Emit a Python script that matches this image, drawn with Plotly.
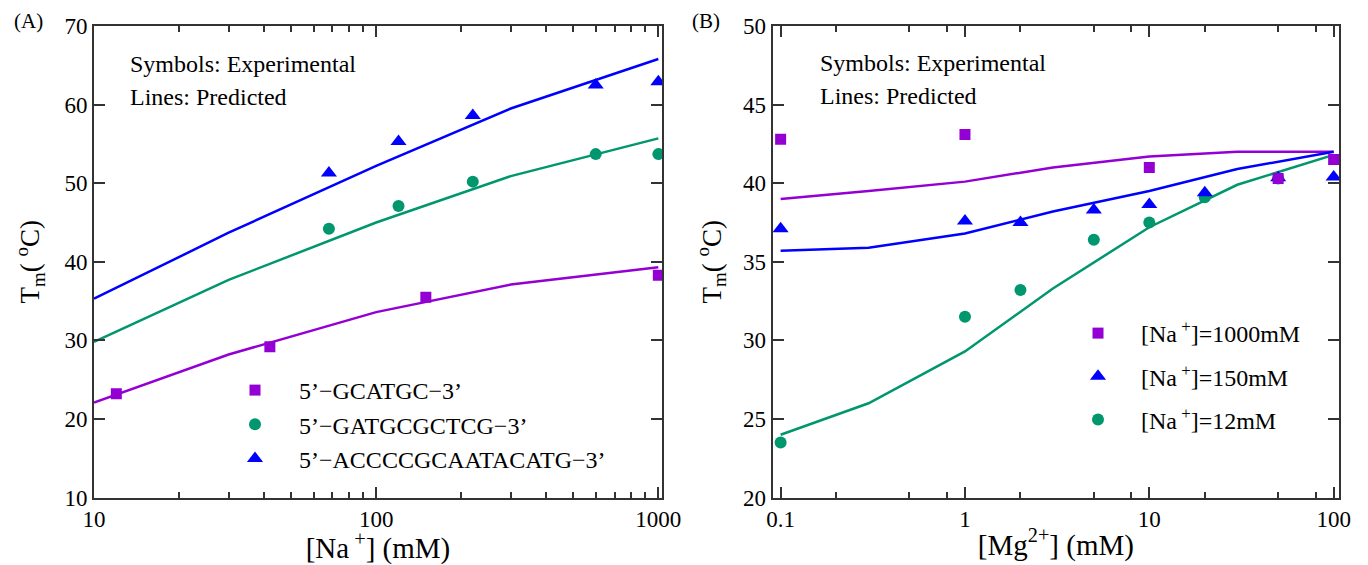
import plotly.graph_objects as go

# ---------------- Panel A data ----------------
na_line_x = [10, 30, 100, 300, 1000]
na_line_gcatgc = [22.1, 28.2, 33.6, 37.1, 39.3]
na_line_gatgc = [29.8, 37.7, 45.0, 50.9, 55.7]
na_line_acccc = [35.3, 43.7, 52.2, 59.5, 65.8]

na_sq_x = [12, 42, 150, 1000]
na_sq_y = [23.2, 29.2, 35.5, 38.3]
na_ci_x = [68, 120, 220, 600, 1000]
na_ci_y = [44.2, 47.1, 50.2, 53.7, 53.7]
na_tr_x = [68, 120, 220, 600, 1000]
na_tr_y = [51.3, 55.3, 58.6, 62.5, 62.9]

na_names = ["5’−GCATGC−3’", "5’−GATGCGCTCG−3’", "5’−ACCCCGCAATACATG−3’"]

# ---------------- Panel B data ----------------
mg_line_x = [0.1, 0.3, 1, 3, 10, 30, 100]
mg_line_1000 = [39.0, 39.5, 40.1, 41.0, 41.7, 42.0, 42.0]
mg_line_150 = [35.7, 35.9, 36.8, 38.2, 39.5, 40.9, 42.0]
mg_line_12 = [24.0, 26.0, 29.3, 33.3, 37.2, 39.9, 41.8]

mg_sq_x = [0.1, 1, 10, 50, 100]
mg_sq_y = [42.8, 43.1, 41.0, 40.3, 41.5]
mg_tr_x = [0.1, 1, 2, 5, 10, 20, 50, 100]
mg_tr_y = [37.1, 37.6, 37.5, 38.3, 38.65, 39.4, 40.35, 40.4]
mg_ci_x = [0.1, 1, 2, 5, 10, 20, 50]
mg_ci_y = [23.5, 31.5, 33.2, 36.4, 37.5, 39.1, 40.3]

mg_names = ["[Na<sup> +</sup>]=1000mM", "[Na<sup> +</sup>]=150mM", "[Na<sup> +</sup>]=12mM"]

na_xticks = [10, 100, 1000]
na_minor = [20, 30, 40, 50, 60, 70, 80, 90, 200, 300, 400, 500, 600, 700, 800, 900]
mg_xticks = [0.1, 1, 10, 100]
mg_minor = [0.2, 0.5, 0.8, 2, 5, 8, 20, 50, 80]

PURPLE = "#9400D3"
GREEN = "#00966E"
BLUE = "#0000FF"
FONT = "Liberation Serif"
W, H = 1368, 565

fig = go.Figure()

# Panel A lines
for ys, c in [(na_line_gcatgc, PURPLE), (na_line_gatgc, GREEN), (na_line_acccc, BLUE)]:
    fig.add_trace(go.Scatter(x=na_line_x, y=ys, mode="lines", line=dict(color=c, width=2.5),
                             showlegend=False, xaxis="x", yaxis="y"))
# Panel A markers
fig.add_trace(go.Scatter(x=na_sq_x, y=na_sq_y, mode="markers", name=na_names[0],
                         marker=dict(symbol="square", size=11, color=PURPLE),
                         legend="legend", legendgroup="a1", xaxis="x", yaxis="y"))
fig.add_trace(go.Scatter(x=na_ci_x, y=na_ci_y, mode="markers", name=na_names[1],
                         marker=dict(symbol="circle", size=12, color=GREEN),
                         legend="legend", legendgroup="a2", xaxis="x", yaxis="y"))
fig.add_trace(go.Scatter(x=na_tr_x, y=na_tr_y, mode="markers", name=na_names[2],
                         marker=dict(symbol="triangle-up", size=14, color=BLUE),
                         legend="legend", legendgroup="a3", xaxis="x", yaxis="y"))

# Panel B lines
for ys, c in [(mg_line_1000, PURPLE), (mg_line_150, BLUE), (mg_line_12, GREEN)]:
    fig.add_trace(go.Scatter(x=mg_line_x, y=ys, mode="lines", line=dict(color=c, width=2.5),
                             showlegend=False, xaxis="x2", yaxis="y2"))
# Panel B markers (draw order: circle, triangle, square)
fig.add_trace(go.Scatter(x=mg_ci_x, y=mg_ci_y, mode="markers", name=mg_names[2],
                         marker=dict(symbol="circle", size=12, color=GREEN),
                         legend="legend2", legendgroup="b3", legendrank=3, xaxis="x2", yaxis="y2"))
fig.add_trace(go.Scatter(x=mg_tr_x, y=mg_tr_y, mode="markers", name=mg_names[1],
                         marker=dict(symbol="triangle-up", size=14, color=BLUE),
                         legend="legend2", legendgroup="b2", legendrank=2, xaxis="x2", yaxis="y2"))
fig.add_trace(go.Scatter(x=mg_sq_x, y=mg_sq_y, mode="markers", name=mg_names[0],
                         marker=dict(symbol="square", size=11, color=PURPLE),
                         legend="legend2", legendgroup="b1", legendrank=1, xaxis="x2", yaxis="y2"))

axis_common = dict(showline=True, linecolor="#333", linewidth=2, mirror="allticks",
                   ticks="inside", ticklen=11, tickwidth=1.5, tickcolor="#333",
                   showgrid=False, zeroline=False,
                   tickfont=dict(family=FONT, size=23, color="black"))

def px_x(p):
    return p / W

def px_y(p):
    return 1 - p / H

ydom = [px_y(497.6), px_y(26)]

def note(text, x, y, size, xanchor="center"):
    return dict(text=text, x=px_x(x), y=px_y(y), xref="paper", yref="paper", showarrow=False,
                xanchor=xanchor, yanchor="middle", font=dict(family=FONT, size=size, color="black"))

fig.update_layout(
    width=W, height=H, margin=dict(l=0, r=0, t=0, b=0, autoexpand=False),
    plot_bgcolor="white", paper_bgcolor="white",
    font=dict(family=FONT, color="black"),
    xaxis=dict(axis_common, type="log", domain=[px_x(94), px_x(662)], range=[1, 3.013],
               tickvals=na_xticks, ticktext=[str(v) for v in na_xticks],
               minor=dict(tickvals=na_minor, ticklen=6, tickwidth=1.5, tickcolor="#333", ticks="inside"),
               title=dict(text="[Na<sup> +</sup>] (mM)", font=dict(family=FONT, size=29), standoff=3),
               anchor="y"),
    yaxis=dict(axis_common, domain=ydom, range=[10, 70], tickvals=[10, 20, 30, 40, 50, 60, 70],
               title=dict(text="T<sub>m</sub>( <sup>o</sup>C)", font=dict(family=FONT, size=27), standoff=17),
               anchor="x"),
    xaxis2=dict(axis_common, type="log", domain=[px_x(772.7), px_x(1339)], range=[-1.043, 2.029],
                tickvals=mg_xticks, ticktext=["0.1", "1", "10", "100"],
                minor=dict(tickvals=mg_minor, ticklen=6, tickwidth=1.5, tickcolor="#333", ticks="inside"),
                title=dict(text="[Mg<sup>2+</sup>] (mM)", font=dict(family=FONT, size=29), standoff=3),
                anchor="y2"),
    yaxis2=dict(axis_common, domain=ydom, range=[20, 50], tickvals=[20, 25, 30, 35, 40, 45, 50],
                title=dict(text="T<sub>m</sub>( <sup>o</sup>C)", font=dict(family=FONT, size=27), standoff=14),
                anchor="x2"),
    legend=dict(x=px_x(211), y=px_y(368), xanchor="left", yanchor="top",
                bgcolor="rgba(0,0,0,0)", itemwidth=78, tracegroupgap=0,
                font=dict(family=FONT, size=24, color="black")),
    legend2=dict(x=px_x(1055), y=px_y(311), xanchor="left", yanchor="top",
                 bgcolor="rgba(0,0,0,0)", itemwidth=76, tracegroupgap=9,
                 font=dict(family=FONT, size=24, color="black")),
    annotations=[
        note("(A)", 28.5, 21, 21),
        note("(B)", 706, 21, 21),
        note("Symbols: Experimental", 128, 64, 24, "left"),
        note("Lines: Predicted", 128, 97, 24, "left"),
        note("Symbols: Experimental", 818, 63, 24, "left"),
        note("Lines: Predicted", 818, 96, 24, "left"),
    ],
)

fig.write_html("out.html")
